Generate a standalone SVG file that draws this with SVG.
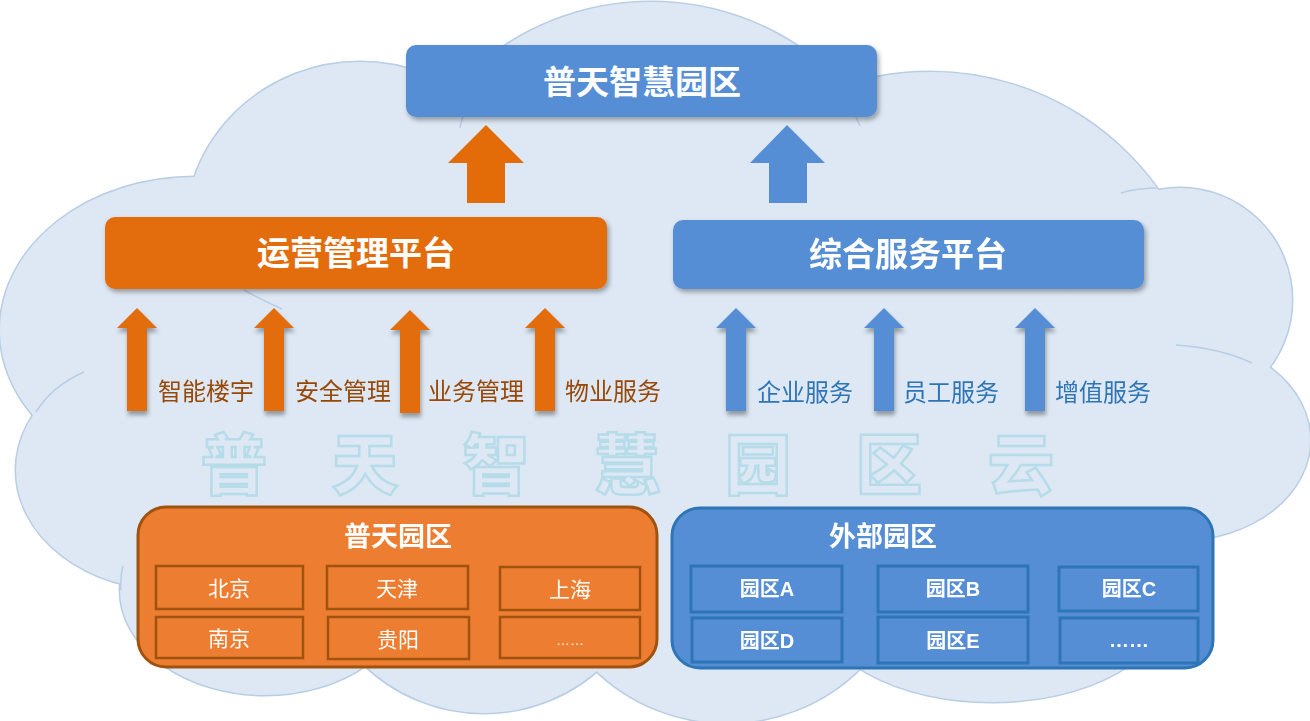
<svg xmlns="http://www.w3.org/2000/svg" xmlns:xlink="http://www.w3.org/1999/xlink" width="1310" height="721" viewBox="0 0 1310 721">
<style>
.cjkb{font-family:"Noto Sans CJK SC","Noto Sans CJK JP",sans-serif;font-weight:bold;fill:#fff;text-anchor:middle}
.lab{font-family:"Noto Sans CJK SC",sans-serif;font-size:24px;text-anchor:middle}
.olab{fill:#974806}
.blab{fill:#2E75B6}
.cell{font-family:"Noto Sans CJK SC",sans-serif;font-size:21px;fill:#fff;text-anchor:middle}
.bcell{font-family:"Liberation Sans","Noto Sans CJK SC",sans-serif;font-weight:bold;font-size:20px;fill:#fff;text-anchor:middle}
.ocellr{fill:none;stroke:#A0520F;stroke-width:2.5}
.bcellr{fill:none;stroke:#2E75B6;stroke-width:3}
.inner{fill:none;stroke:#B9CDE5;stroke-width:1.5}
.wm{font-family:"Noto Sans CJK SC",sans-serif;font-weight:900;font-size:66px;fill:none;stroke:#B5DCE8;stroke-width:2.5;text-anchor:middle}
</style>
<defs>
<filter id="sh" x="-10%" y="-20%" width="120%" height="150%">
<feDropShadow dx="2" dy="3" stdDeviation="2.5" flood-color="#000" flood-opacity="0.35"/>
</filter>
<filter id="ash" x="-50%" y="-10%" width="200%" height="130%">
<feDropShadow dx="1" dy="4" stdDeviation="2" flood-color="#000" flood-opacity="0.35"/>
</filter>
<g id="cs">
<ellipse cx="195" cy="330" rx="195" ry="153"/>
<ellipse cx="360" cy="232" rx="175" ry="170"/>
<circle cx="651" cy="268" r="266"/>
<circle cx="930" cy="352" r="280"/>
<circle cx="1180" cy="300" r="112"/>
<ellipse cx="1180" cy="440" rx="130" ry="100"/>
<ellipse cx="170" cy="470" rx="154" ry="120"/>
<ellipse cx="265" cy="590" rx="145" ry="105"/>
<circle cx="484" cy="540" r="173"/>
<circle cx="727" cy="533" r="190"/>
<ellipse cx="992" cy="602" rx="177" ry="100"/>
</g>
<path id="sa" d="M0,0 L20,20 L10,20 L10,103 L-10,103 L-10,20 L-20,20 Z"/>
</defs>

<g id="cloud">
<use xlink:href="#cs" fill="none" stroke="#B9CDE5" stroke-width="3"/>
<use xlink:href="#cs" fill="#DDE8F4"/>
<rect x="150" y="300" width="1000" height="340" fill="#DDE8F4"/>
<path class="inner" d="M84,372 Q52,386 36,412"/>
<path class="inner" d="M244,290 Q262,300 282,309"/>
<path class="inner" d="M1121,193 Q1138,188 1157,188"/>
<path class="inner" d="M1176,345 Q1220,348 1252,363"/>
<path class="inner" d="M463,117 Q461,122 460,128"/>
<path class="inner" d="M856,117 Q858,121 860,126"/>
<path class="inner" d="M123,566 Q120,578 121,590"/>
</g>

<g id="watermark">
<text class="wm" x="234 365 496 627 758 889 1021" y="489">普天智慧园区云</text>
</g>

<g id="connectors">
<polygon points="486,125 524,163 505,163 505,203 467,203 467,163 448,163" fill="#E36C09"/>
<polygon points="787,125 825,163 807,163 807,203 769,203 769,163 750,163" fill="#558ED5"/>
<g fill="#E36C09" filter="url(#ash)">
<use xlink:href="#sa" x="137" y="308"/>
<use xlink:href="#sa" x="274" y="308"/>
<use xlink:href="#sa" x="410" y="310"/>
<use xlink:href="#sa" x="545" y="308"/>
</g>
<g fill="#558ED5" filter="url(#ash)">
<use xlink:href="#sa" x="736" y="308"/>
<use xlink:href="#sa" x="884" y="308"/>
<use xlink:href="#sa" x="1035" y="308"/>
</g>
</g>

<g id="top-node">
<rect x="406" y="45" width="471" height="72" rx="10" fill="#558ED5" filter="url(#sh)"/>
<text class="cjkb" x="642" y="94" font-size="33">普天智慧园区</text>
</g>

<g id="ops-platform">
<rect x="105" y="217" width="502" height="72" rx="10" fill="#E36C09" filter="url(#sh)"/>
<text class="cjkb" x="356" y="265" font-size="33">运营管理平台</text>
</g>

<g id="svc-platform">
<rect x="673" y="220" width="471" height="69" rx="10" fill="#558ED5" filter="url(#sh)"/>
<text class="cjkb" x="908" y="266" font-size="33">综合服务平台</text>
</g>

<g id="labels">
<text class="lab olab" x="206" y="400">智能楼宇</text>
<text class="lab olab" x="343" y="400">安全管理</text>
<text class="lab olab" x="476" y="400">业务管理</text>
<text class="lab olab" x="613" y="400">物业服务</text>
<text class="lab blab" x="805" y="401">企业服务</text>
<text class="lab blab" x="951" y="401">员工服务</text>
<text class="lab blab" x="1103" y="401">增值服务</text>
</g>

<g id="putian-park">
<rect x="138" y="507" width="519" height="160" rx="28" fill="#ED7D31" stroke="#A0520F" stroke-width="3"/>
<text class="cjkb" x="398" y="546" font-size="27">普天园区</text>
<rect class="ocellr" x="156" y="566" width="147" height="43"/>
<rect class="ocellr" x="327" y="566" width="141" height="43"/>
<rect class="ocellr" x="500" y="567" width="140" height="43"/>
<rect class="ocellr" x="156" y="617" width="147" height="41"/>
<rect class="ocellr" x="328" y="617" width="141" height="42"/>
<rect class="ocellr" x="500" y="617" width="140" height="41"/>
<text class="cell" x="229" y="596">北京</text>
<text class="cell" x="397" y="596">天津</text>
<text class="cell" x="570" y="597">上海</text>
<text class="cell" x="229" y="646">南京</text>
<text class="cell" x="398" y="647">贵阳</text>
<text x="570" y="645" font-family="Liberation Sans, sans-serif" font-size="14" fill="#fff" text-anchor="middle">……</text>
</g>

<g id="external-park">
<rect x="672" y="508" width="541" height="160" rx="28" fill="#558ED5" stroke="#2E75B6" stroke-width="3"/>
<text class="cjkb" x="883" y="546" font-size="27">外部园区</text>
<rect class="bcellr" x="691" y="566" width="151" height="46"/>
<rect class="bcellr" x="878" y="566" width="150" height="46"/>
<rect class="bcellr" x="1059" y="567" width="139" height="44"/>
<rect class="bcellr" x="692" y="618" width="150" height="44"/>
<rect class="bcellr" x="878" y="617" width="150" height="46"/>
<rect class="bcellr" x="1060" y="618" width="138" height="45"/>
<text class="bcell" x="767" y="596">园区A</text>
<text class="bcell" x="953" y="596">园区B</text>
<text class="bcell" x="1129" y="596">园区C</text>
<text class="bcell" x="767" y="648">园区D</text>
<text class="bcell" x="953" y="648">园区E</text>
<text class="bcell" x="1129" y="647">……</text>
</g>
</svg>
